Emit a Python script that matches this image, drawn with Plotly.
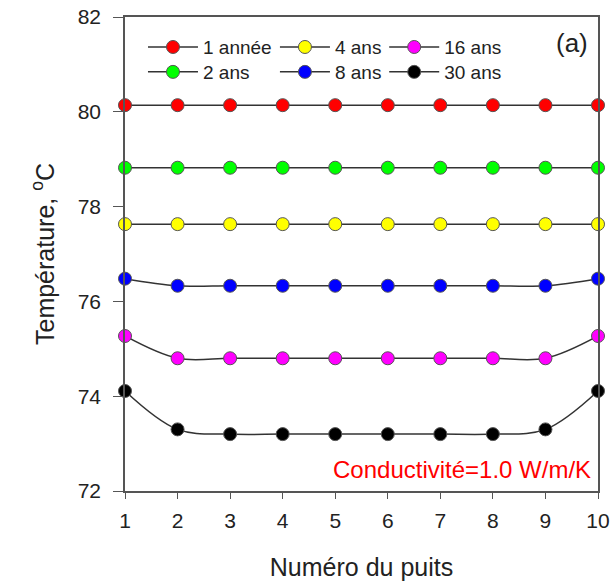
import plotly.graph_objects as go

wells = list(range(1, 11))
names = ["1 année", "2 ans", "4 ans", "8 ans", "16 ans", "30 ans"]
colors = ["#FF0000", "#00FF00", "#FFFF00", "#0000FF", "#FF00FF", "#000000"]
t_1an = [80.14] * 10
t_2ans = [78.82] * 10
t_4ans = [77.63] * 10
t_8ans = [76.48, 76.33, 76.33, 76.33, 76.33, 76.33, 76.33, 76.33, 76.33, 76.48]
t_16ans = [75.27, 74.80, 74.80, 74.80, 74.80, 74.80, 74.80, 74.80, 74.80, 75.27]
t_30ans = [74.11, 73.30, 73.20, 73.20, 73.20, 73.20, 73.20, 73.20, 73.30, 74.11]
series = [t_1an, t_2ans, t_4ans, t_8ans, t_16ans, t_30ans]
legend_ids = ["legend", "legend2", "legend3", "legend4", "legend5", "legend6"]

FONT = "Liberation Sans, Arial, sans-serif"

fig = go.Figure()
for name, col, ys, lg in zip(names, colors, series, legend_ids):
    fig.add_trace(go.Scatter(
        x=wells, y=ys, name=name, mode="lines+markers",
        line=dict(color="#333333", width=1.5, shape="spline"),
        marker=dict(color=col, size=13, line=dict(color="#555555", width=1)),
        legend=lg, cliponaxis=False, showlegend=True,
    ))

leg_common = dict(
    orientation="v", yanchor="top", xanchor="left",
    font=dict(family=FONT, size=19, color="#222222"),
    bgcolor="rgba(0,0,0,0)", tracegroupgap=0, itemwidth=50,
)
col_x = [0.038, 0.317, 0.548]
row_y = [0.9765, 0.924]
fig.update_layout(
    width=612, height=581,
    margin=dict(l=125, r=14, t=17, b=90),
    plot_bgcolor="white", paper_bgcolor="white",
    showlegend=True,
    font=dict(family=FONT, size=21, color="#222222"),
    legend=dict(x=col_x[0], y=row_y[0], **leg_common),
    legend2=dict(x=col_x[0], y=row_y[1], **leg_common),
    legend3=dict(x=col_x[1], y=row_y[0], **leg_common),
    legend4=dict(x=col_x[1], y=row_y[1], **leg_common),
    legend5=dict(x=col_x[2], y=row_y[0], **leg_common),
    legend6=dict(x=col_x[2], y=row_y[1], **leg_common),
    xaxis=dict(
        range=[1, 10], tickvals=wells, ticks="outside", ticklen=6,
        tickcolor="#555555", linecolor="#555555", linewidth=1.5, mirror=True,
        showgrid=False, zeroline=False, automargin=False, ticklabelstandoff=4,
        title=dict(text="Numéro du puits", font=dict(size=25), standoff=34),
    ),
    yaxis=dict(
        range=[72, 82], tickvals=[72, 74, 76, 78, 80, 82], ticks="outside", ticklen=10,
        tickcolor="#555555", linecolor="#555555", linewidth=1.5, mirror=True,
        showgrid=False, zeroline=False, automargin=False, ticklabelstandoff=8,
        title=dict(text="Température, <sup>o</sup>C", font=dict(size=25), standoff=16),
    ),
    annotations=[
        dict(text="(a)", xref="paper", yref="paper", x=0.983, y=0.945,
             xanchor="right", yanchor="middle", showarrow=False,
             font=dict(size=26, color="#222222")),
        dict(text="Conductivité=1.0 W/m/K", xref="paper", yref="paper", x=0.99, y=0.046,
             xanchor="right", yanchor="middle", showarrow=False,
             font=dict(size=24, color="#FF0000")),
    ],
)
fig.write_html("out.html")
